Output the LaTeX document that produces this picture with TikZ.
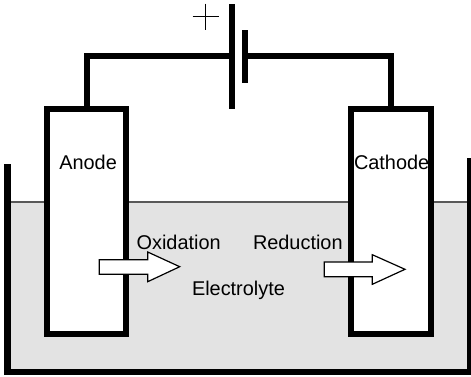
\documentclass[tikz,border=0pt]{standalone}
\usepackage{fontspec}
\setmainfont{Liberation Sans}
\begin{document}
\begin{tikzpicture}[x=1pt,y=-1pt,
  heavy/.style={line width=6pt,line join=miter,black},
  electrode/.style={draw=black,fill=white,line width=6pt,inner sep=0pt,outer sep=0pt,minimum height=225pt},
  caption/.style={anchor=base west,inner sep=0pt,outer sep=0pt,font=\fontsize{19.9}{22}\selectfont,text=black},
  flow/.style={draw=black,fill=white,line width=1.2pt,line join=miter}]
\useasboundingbox (0,0) rectangle (471,376);
\clip (0,0) rectangle (471,376);
\fill[white] (0,0) rectangle (471,376);
% electrolyte
\fill[black!11] (7,202) rectangle (470,372);
\draw[black!65,line width=1.1pt] (7,202) -- (470,202);
% tank
\draw[line width=6.8pt,line join=miter,black] (7.3,164) -- (7.3,372) -- (470,372) -- (470,158);
% electrodes
\node[electrode,minimum width=79pt] (anode) at (86.7,221.8) {};
\node[electrode,minimum width=79.4pt] (cathode) at (391,221.8) {};
% battery
\coordinate (longtop) at (232.3,4);
\coordinate (longbot) at (232.3,109);
\coordinate (shorttop) at (245.3,30);
\coordinate (shortbot) at (245.3,82.7);
\coordinate (longmid) at (232.3,56.3);
\coordinate (shortmid) at (245.3,56.3);
\draw[heavy] (longtop) -- (longbot);
\draw[heavy] (shorttop) -- (shortbot);
\draw[heavy] (anode.north) |- (longmid);
\draw[heavy] (cathode.north) |- (shortmid);
% plus sign
\coordinate (plusl) at (192.7,16.3);
\coordinate (plusr) at (219,16.3);
\coordinate (plust) at (205.7,3.7);
\coordinate (plusb) at (205.7,29.7);
\draw[black,line width=1.1pt] (plusl) -- (plusr) (plust) -- (plusb);
% arrows
\draw[flow] (99.3,259.7) -- (147.7,259.7) -- (147.7,252) -- (179.7,266.7) -- (147.7,281.7) -- (147.7,274.3) -- (99.3,274.3) -- cycle;
\draw[flow] (324.3,262) -- (372.3,262) -- (372.3,254.7) -- (405,269.3) -- (372.3,284.3) -- (372.3,276.7) -- (324.3,276.7) -- cycle;
% labels
\node[caption] (tanode) at (59.3,169) {Anode};
\node[caption] (tcathode) at (354,169) {Cathode};
\node[caption] (toxidation) at (136.6,249.3) {Oxidation};
\node[caption] (treduction) at (253,249.3) {Reduction};
\node[caption] (telectrolyte) at (192,295) {Electrolyte};
\end{tikzpicture}
\end{document}
